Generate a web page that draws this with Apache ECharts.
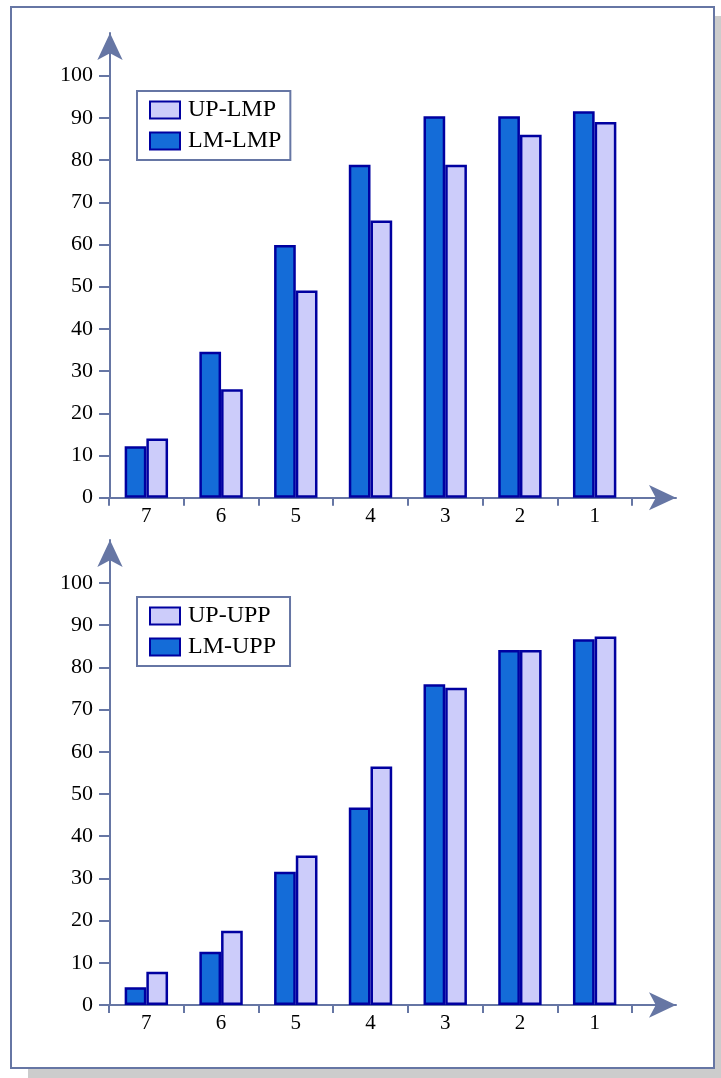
<!DOCTYPE html>
<html>
<head>
<meta charset="utf-8">
<script src="https://cdn.jsdelivr.net/npm/echarts@6/dist/echarts.min.js"></script>
<style>
  html, body { margin: 0; padding: 0; background: #ffffff; }
  #chart { width: 721px; height: 1078px; }
</style>
</head>
<body>
<div id="chart"></div>
<script>
// Categories along the horizontal axis (shown in descending order)
const categories = ['7', '6', '5', '4', '3', '2', '1'];

// Upper panel: LMP series
const lmLmp = [12.2, 34.6, 59.9, 78.9, 90.4, 90.4, 91.6];
const upLmp = [14.0, 25.7, 49.1, 65.7, 78.9, 86.0, 89.0];

// Lower panel: UPP series
const lmUpp = [4.2, 12.6, 31.6, 46.8, 76.0, 84.1, 86.7];
const upUpp = [7.9, 17.6, 35.4, 56.5, 75.2, 84.1, 87.3];

const AXIS = '#6676a4';
const EDGE = '#0000a0';
const DARK = '#146cd8';
const LIGHT = '#ccccfa';
const FONT = '"Liberation Serif", "Times New Roman", serif';

const chart = echarts.init(document.getElementById('chart'), null, { renderer: 'canvas' });

// Geometry of each panel
const panels = [
  { top: 75.7, base: 497.7, tip: 33 },
  { top: 583, base: 1005, tip: 540 }
];
const plotLeft = 109, plotWidth = 523, arrowTipX = 676;
const arrowLen = 27, arrowWide = 19;

const grids = [], xAxes = [], yAxes = [];
panels.forEach(function (p) {
  // bar plotting area
  grids.push({ left: plotLeft, top: p.top, width: plotWidth, height: p.base - p.top });
  // arrowed axis lines
  grids.push({ left: plotLeft + 1, top: p.tip, width: arrowTipX - plotLeft - 1, height: p.base - p.tip });
});

[0, 2].forEach(function (gi) {
  xAxes.push({
    type: 'category', gridIndex: gi, data: categories,
    axisLine: { show: false },
    axisTick: { show: true, length: 8, lineStyle: { color: AXIS, width: 2 } },
    axisLabel: { margin: 8, color: '#000', fontFamily: FONT, fontSize: 21 },
    splitLine: { show: false }
  });
  yAxes.push({
    type: 'value', gridIndex: gi, min: 0, max: 100, interval: 10,
    axisLine: { show: false },
    axisTick: { show: true, length: 10, lineStyle: { color: AXIS, width: 2 } },
    axisLabel: { margin: 16, color: '#000', fontFamily: FONT, fontSize: 22 },
    splitLine: { show: false }
  });
  const lineAxis = {
    type: 'value', gridIndex: gi + 1, min: 0, max: 1,
    axisLine: { show: true, symbol: ['none', 'arrow'], symbolSize: [arrowWide, arrowLen], lineStyle: { color: AXIS, width: 2 } },
    axisTick: { show: false }, axisLabel: { show: false }, splitLine: { show: false }
  };
  xAxes.push(Object.assign({}, lineAxis));
  yAxes.push(Object.assign({}, lineAxis));
});

function barSeries(name, data, color, axisIdx) {
  return {
    name: name, type: 'bar', data: data,
    xAxisIndex: axisIdx, yAxisIndex: axisIdx,
    barWidth: 21.7, barGap: '0%',
    itemStyle: { color: color, borderColor: EDGE, borderWidth: 2.5 },
    emphasis: { disabled: true }
  };
}

function legendAt(top, names, padRight) {
  return {
    orient: 'vertical', left: 137, top: top,
    data: names, icon: 'rect',
    itemWidth: 30, itemHeight: 17, itemGap: 7,
    padding: [7, padRight, 7, 12],
    backgroundColor: '#fff', borderColor: AXIS, borderWidth: 2, borderRadius: 0,
    textStyle: { color: '#000', fontFamily: FONT, fontSize: 24, padding: [0, 0, 0, 3] },
    selectedMode: false
  };
}

chart.setOption({
  animation: false,
  backgroundColor: 'transparent',
  graphic: [
    { type: 'rect', z: -2, shape: { x: 28, y: 16, width: 700, height: 1070 }, style: { fill: '#cccccc' } },
    { type: 'rect', z: -1, shape: { x: 11, y: 7, width: 703, height: 1061 }, style: { fill: '#ffffff', stroke: AXIS, lineWidth: 2 } }
  ],
  grid: grids,
  xAxis: xAxes,
  yAxis: yAxes,
  legend: [legendAt(91, ['UP-LMP', 'LM-LMP'], 9), legendAt(597, ['UP-UPP', 'LM-UPP'], 14)],
  series: [
    barSeries('LM-LMP', lmLmp, DARK, 0),
    barSeries('UP-LMP', upLmp, LIGHT, 0),
    barSeries('LM-UPP', lmUpp, DARK, 2),
    barSeries('UP-UPP', upUpp, LIGHT, 2)
  ]
});
</script>
</body>
</html>
